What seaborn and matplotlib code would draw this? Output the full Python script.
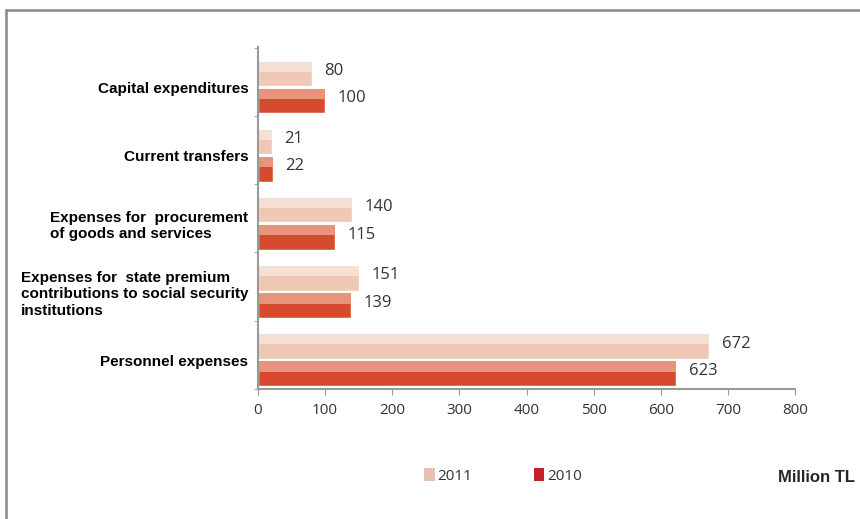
import matplotlib
matplotlib.use("Agg")
import matplotlib.pyplot as plt
from matplotlib.patches import Rectangle, Patch
from matplotlib.lines import Line2D
import seaborn as sns
import pandas as pd
import numpy as np

categories = ["Capital expenditures",
              "Current transfers",
              "Expenses for  procurement\nof goods and services",
              "Expenses for  state premium\ncontributions to social security\ninstitutions",
              "Personnel expenses"]
years = ["2011", "2010"]
v2011 = [80, 21, 140, 151, 672]
v2010 = [100, 22, 115, 139, 623]
xticks = [0, 100, 200, 300, 400, 500, 600, 700, 800]

df = pd.DataFrame({
    "cat": categories * 2,
    "year": ["2011"] * 5 + ["2010"] * 5,
    "val": v2011 + v2010,
})

sns.set_style("white")
num_font = "Open Sans"
lab_font = "Liberation Sans"

fig = plt.figure(figsize=(8.6, 5.19), dpi=100)
ax = fig.add_axes([258/860, 1-389/519, (795-258)/860, (389-47)/519])

base = {"2011": "#EEC8B5", "2010": "#D84A30"}
light = {"2011": "#F6E0D4", "2010": "#E8937C"}
legend_col = {"2011": "#E6C0B2", "2010": "#C4212B"}

sns.barplot(data=df, y="cat", x="val", hue="year", hue_order=years, orient="h",
            palette=base, width=0.8, gap=0.1, saturation=1, legend=False, ax=ax)

# gradient highlight on upper part of each bar + value labels
for cont, yr in zip(ax.containers, years):
    for patch, val in zip(cont.patches, df[df.year == yr].val):
        x0, y0 = patch.get_x(), patch.get_y()
        w, h = patch.get_width(), patch.get_height()
        ax.add_patch(Rectangle((x0, y0), w, h * 0.42, facecolor=light[yr],
                               edgecolor="none", zorder=patch.get_zorder() + 0.1))
        ax.annotate(str(val), (x0 + w, y0 + h / 2), xytext=(9, 2),
                    textcoords="offset points", ha="left", va="center",
                    fontsize=12, color="#333333", family=num_font)

ax.set_xlim(0, 800)
ax.set_ylim(4.425, -0.594)
ax.set_xticks(xticks)
ax.set_xticklabels([str(t) for t in xticks], fontsize=11, color="#333333", family=num_font)
ax.tick_params(axis="x", length=4, color="#999999", pad=6, direction="out", bottom=True)
ax.tick_params(axis="y", length=0, pad=7)
ax.set_yticks(range(5))
ax.set_yticklabels(categories, fontsize=11, fontweight="bold", family=lab_font,
                   color="black", multialignment="left")
ax.set_yticks(np.arange(-0.58, 4.5, 1), minor=True)
ax.tick_params(axis="y", which="minor", length=3, color="#999999", left=True)
ax.set_xlabel("")
ax.set_ylabel("")
for s in ["top", "right"]:
    ax.spines[s].set_visible(False)
for s in ["left", "bottom"]:
    ax.spines[s].set_color("#999999")
    ax.spines[s].set_linewidth(1.5)

# legend
handles = [Patch(facecolor=legend_col[y], edgecolor="none", label=y) for y in years]
fig.legend(handles=handles, loc="center", bbox_to_anchor=(0.585, 1-476/519), ncol=2,
           frameon=False, handlelength=0.7, handleheight=0.9, handletextpad=0.2,
           columnspacing=4.0, prop={"family": num_font, "size": 11})
for t in fig.legends[0].get_texts():
    t.set_color("#333333")

fig.text(855/860, 1-477/519, "Million TL", ha="right", va="center",
         fontsize=12, fontweight="bold", family=lab_font)

# frame lines
fig.add_artist(Line2D([6/860, 6/860], [0, 1-10/519], color="#888888", lw=1.8))
fig.add_artist(Line2D([6/860, 1], [1-10/519, 1-10/519], color="#888888", lw=1.8))

fig.savefig("out.png", dpi=100)
